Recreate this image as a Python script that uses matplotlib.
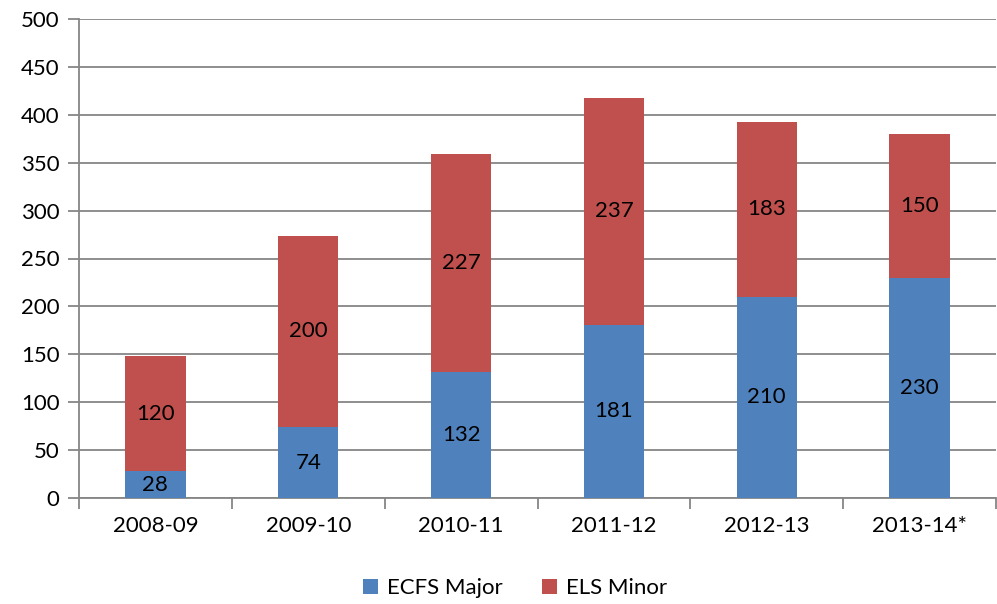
import matplotlib
matplotlib.use("Agg")
import matplotlib.pyplot as plt
import numpy as np

categories = ["2008-09", "2009-10", "2010-11", "2011-12", "2012-13", "2013-14*"]
ecfs_major = [28, 74, 132, 181, 210, 230]
els_minor = [120, 200, 227, 237, 183, 150]
y_ticks = [0, 50, 100, 150, 200, 250, 300, 350, 400, 450, 500]

plt.rcParams['font.family'] = ['Lato', 'DejaVu Sans']

fig = plt.figure(figsize=(9.97, 6.04), dpi=100)
ax = fig.add_axes([79/997, 1-498/604, (996-79)/997, (498-19)/604])

blue = "#4F81BD"
red = "#C0504D"
grid = "#868686"

x = np.arange(len(categories))
w = 0.395
b1 = ax.bar(x, ecfs_major, width=w, color=blue, label="ECFS Major", zorder=3)
b2 = ax.bar(x, els_minor, width=w, bottom=ecfs_major, color=red, label="ELS Minor", zorder=3)

for i in range(len(categories)):
    ax.text(x[i], ecfs_major[i]/2, str(ecfs_major[i]), ha="center", va="center",
            fontsize=16, color="black", zorder=4)
    ax.text(x[i], ecfs_major[i] + els_minor[i]/2, str(els_minor[i]), ha="center",
            va="center", fontsize=16, color="black", zorder=4)

ax.set_xlim(-0.5, len(categories) - 0.5)
ax.set_ylim(0, 500)
ax.set_yticks(y_ticks)
ax.set_yticklabels([str(v) for v in y_ticks], fontsize=16)
ax.yaxis.grid(True, color=grid, linewidth=1.3, zorder=0)
ax.set_axisbelow(True)

ax.set_xticks(np.arange(-0.5, len(categories), 1.0))
ax.set_xticklabels([])
ax.set_xticks(x, minor=True)
ax.set_xticklabels(categories, minor=True, fontsize=16)
ax.tick_params(axis="x", which="minor", length=0, pad=13)
ax.tick_params(axis="x", which="major", length=8, width=1.3, color=grid, direction="out")
ax.tick_params(axis="y", length=8, width=1.3, color=grid, direction="out", pad=6)

for s in ["top", "right"]:
    ax.spines[s].set_visible(False)
for s in ["left", "bottom"]:
    ax.spines[s].set_color(grid)
    ax.spines[s].set_linewidth(1.3)

leg = fig.legend(handles=[b1, b2], labels=["ECFS Major", "ELS Minor"],
                 loc="center", bbox_to_anchor=(515/997, 1-588/604), ncol=2,
                 frameon=False, fontsize=16, handlelength=0.65, handleheight=0.65,
                 handletextpad=0.4, columnspacing=1.8)

fig.savefig("out.png", dpi=100)
